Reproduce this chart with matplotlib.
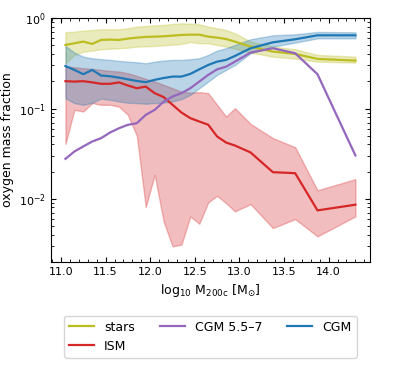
import numpy as np
import matplotlib
matplotlib.use("Agg")
import matplotlib.pyplot as plt
from matplotlib.ticker import MultipleLocator

# halo mass bin centres (log10 M200c)
logM = [11.05, 11.15, 11.25, 11.35, 11.45, 11.55, 11.65, 11.75, 11.85, 11.95,
        12.05, 12.15, 12.25, 12.35, 12.45, 12.55, 12.65, 12.75, 12.85, 12.95,
        13.125, 13.375, 13.625, 13.875, 14.3]

stars_med = [0.507, 0.529, 0.552, 0.520, 0.576, 0.581, 0.576, 0.596, 0.611, 0.622,
             0.627, 0.632, 0.643, 0.654, 0.659, 0.659, 0.627, 0.611, 0.590, 0.552,
             0.486, 0.428, 0.403, 0.355, 0.340]
stars_hi = [0.700, 0.712, 0.730, 0.743, 0.756, 0.756, 0.756, 0.775, 0.809, 0.822,
            0.837, 0.844, 0.866, 0.880, 0.873, 0.858, 0.809, 0.775, 0.743, 0.682,
            0.552, 0.486, 0.454, 0.393, 0.376]
stars_lo = [0.317, 0.393, 0.428, 0.439, 0.454, 0.461, 0.466, 0.473, 0.486, 0.490,
            0.494, 0.503, 0.511, 0.520, 0.547, 0.529, 0.529, 0.507, 0.486, 0.461,
            0.417, 0.376, 0.358, 0.331, 0.323]

ism_med = [0.201, 0.199, 0.201, 0.195, 0.188, 0.188, 0.195, 0.180, 0.168, 0.175,
           0.148, 0.134, 0.110, 0.0903, 0.0782, 0.0718, 0.0662, 0.0490, 0.0420, 0.0389,
           0.0326, 0.0197, 0.0192, 0.00743, 0.00859]
ism_hi = [0.292, 0.287, 0.280, 0.275, 0.268, 0.261, 0.257, 0.246, 0.230, 0.213,
          0.199, 0.183, 0.168, 0.154, 0.150, 0.152, 0.148, 0.110, 0.0816, 0.101,
          0.0676, 0.0470, 0.0373, 0.0124, 0.0165]
ism_lo = [0.0406, 0.0968, 0.0927, 0.115, 0.110, 0.110, 0.105, 0.0851, 0.0498, 0.00809,
          0.0184, 0.00561, 0.00297, 0.00310, 0.00637, 0.00528, 0.00910, 0.0108, 0.00896, 0.00724,
          0.00873, 0.00473, 0.00595, 0.00383, 0.00637]

cgm57_med = [0.0277, 0.0334, 0.0380, 0.0431, 0.0470, 0.0542, 0.0605, 0.0660, 0.0688, 0.0851,
             0.0967, 0.119, 0.136, 0.148, 0.168, 0.199, 0.236, 0.272, 0.291, 0.331,
             0.417, 0.466, 0.410, 0.240, 0.0302]

cgm_med = [0.296, 0.268, 0.240, 0.268, 0.232, 0.228, 0.220, 0.211, 0.202, 0.196,
           0.208, 0.218, 0.226, 0.226, 0.242, 0.272, 0.304, 0.331, 0.346, 0.383,
           0.466, 0.542, 0.586, 0.648, 0.648]
cgm_hi = [0.494, 0.417, 0.376, 0.361, 0.352, 0.346, 0.337, 0.331, 0.326, 0.317,
          0.331, 0.340, 0.346, 0.346, 0.352, 0.361, 0.393, 0.439, 0.466, 0.507,
          0.586, 0.648, 0.665, 0.706, 0.700]
cgm_lo = [0.130, 0.115, 0.110, 0.116, 0.129, 0.125, 0.120, 0.116, 0.115, 0.113,
          0.115, 0.116, 0.120, 0.127, 0.142, 0.168, 0.199, 0.236, 0.268, 0.304,
          0.410, 0.486, 0.538, 0.600, 0.600]

labels = ["stars", "ISM", "CGM 5.5\u20137", "CGM"]
colors = ["#bcbd22", "#d62728", "#9467bd", "#1f77b4"]

fig = plt.figure(figsize=(4.11, 3.74), dpi=100)
ax = fig.add_axes([0.124, 0.300, 0.776, 0.651])

series = [
    (stars_med, stars_lo, stars_hi),
    (ism_med, ism_lo, ism_hi),
    (cgm57_med, None, None),
    (cgm_med, cgm_lo, cgm_hi),
]

for (med, lo, hi), c in zip(series, colors):
    if lo is not None:
        ax.fill_between(logM, lo, hi, color=c, alpha=0.3)

handles = []
for (med, lo, hi), c, lab in zip(series, colors, labels):
    h, = ax.plot(logM, med, color=c, lw=1.6, label=lab)
    handles.append(h)

ax.set_yscale("log")
ax.set_ylim(0.002, 1.0)
ax.xaxis.set_major_locator(MultipleLocator(0.5))
ax.xaxis.set_minor_locator(MultipleLocator(0.1))
ax.tick_params(which="both", direction="in", top=True, right=True, labelsize=8)
ax.set_xlabel(r"log$_{10}$ M$_{\mathrm{200c}}$ [M$_{\odot}$]", fontsize=9)
ax.set_ylabel("oxygen mass fraction", fontsize=9)

fig.legend(handles=handles, loc="upper center", bbox_to_anchor=(0.512, 0.173),
           ncol=3, fontsize=9)

fig.savefig("out.png", dpi=100)
